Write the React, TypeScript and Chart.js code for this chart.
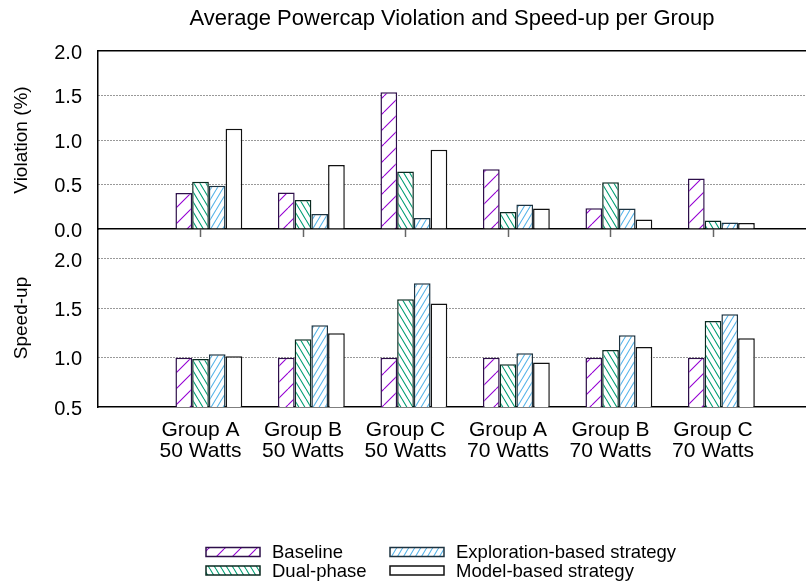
import React, { useEffect, useRef } from 'react';
import { Chart, registerables } from 'chart.js';
Chart.register(...registerables);

const titleText = 'Average Powercap Violation and Speed-up per Group';
const groupLabels = [
  ['Group A', '50 Watts'],
  ['Group B', '50 Watts'],
  ['Group C', '50 Watts'],
  ['Group A', '70 Watts'],
  ['Group B', '70 Watts'],
  ['Group C', '70 Watts'],
];
const seriesNames = ['Baseline', 'Dual-phase', 'Exploration-based strategy', 'Model-based strategy'];

const violationBaseline = [0.405, 0.41, 1.536, 0.672, 0.233, 0.567];
const violationDual = [0.53, 0.327, 0.646, 0.19, 0.526, 0.095];
const violationExploration = [0.485, 0.169, 0.124, 0.275, 0.23, 0.072];
const violationModel = [1.126, 0.72, 0.89, 0.23, 0.106, 0.068];

const speedupBaseline = [1.0, 1.0, 1.0, 1.0, 1.0, 1.0];
const speedupDual = [0.987, 1.187, 1.591, 0.933, 1.078, 1.372];
const speedupExploration = [1.034, 1.329, 1.753, 1.045, 1.227, 1.44];
const speedupModel = [1.014, 1.248, 1.55, 0.95, 1.109, 1.197];

const violationTicks = [0, 0.5, 1.0, 1.5, 2.0];
const speedupTicks = [0.5, 1.0, 1.5, 2.0];

const FONT = '"Liberation Sans", Arial, Helvetica, sans-serif';
const X_MAX = 6.907;
const SPEEDUP_MAX = 2.304;

function makePattern(ctx: CanvasRenderingContext2D, color: string | null, w: number, h: number, dir: string) {
  const c = document.createElement('canvas');
  c.width = w;
  c.height = h;
  const g = c.getContext('2d')!;
  g.fillStyle = '#ffffff';
  g.fillRect(0, 0, w, h);
  if (color) {
    g.strokeStyle = color;
    g.lineWidth = 1.1;
    g.beginPath();
    for (const dx of [-w, 0, w]) {
      if (dir === '/') {
        g.moveTo(dx, h);
        g.lineTo(dx + w, 0);
      } else {
        g.moveTo(dx, 0);
        g.lineTo(dx + w, h);
      }
    }
    g.stroke();
  }
  return ctx.createPattern(c, 'repeat')!;
}

function makeFills(ctx: CanvasRenderingContext2D) {
  return [
    makePattern(ctx, '#9400d3', 16, 16, '/'),
    makePattern(ctx, '#009e73', 6, 10, '\\'),
    makePattern(ctx, '#56b4e9', 6, 10, '/'),
    makePattern(ctx, null, 4, 4, '/'),
  ];
}
const borderColors = ['#2d0f4a', '#0a2a20', '#1d3340', '#111111'];

function buildDatasets(fills: CanvasPattern[], series: number[][]) {
  const dummy = { label: '', data: [] as any[], backgroundColor: 'rgba(0,0,0,0)' };
  return [
    dummy,
    ...series.map((vals, k) => ({
      label: seriesNames[k],
      data: vals.map((v, i) => ({ x: i + 1, y: v })),
      backgroundColor: fills[k],
      borderColor: borderColors[k],
      borderWidth: 1.5,
      categoryPercentage: 0.815,
      barPercentage: 1.0,
    })),
  ];
}

const noPad = (s: any) => {
  s.paddingTop = 0;
  s.paddingBottom = 0;
  s.paddingLeft = 0;
  s.paddingRight = 0;
};

const yAxisBase = (ticks: number[], title: string) => ({
  afterFit: (s: any) => {
    s.width = 98;
    noPad(s);
  },
  afterBuildTicks: (s: any) => {
    s.ticks = ticks.map((v) => ({ value: v }));
  },
  ticks: {
    color: '#000',
    padding: 16,
    labelOffset: 2,
    font: { family: FONT, size: 20 },
    callback: (v: any) => Number(v).toFixed(1),
  },
  title: {
    display: true,
    text: title,
    color: '#000',
    font: { family: FONT, size: 19 },
    padding: { top: 10, bottom: 0 },
  },
  border: { display: true, color: '#000', width: 1.5, dash: [1, 2] },
});

export default function App() {
  const topRef = useRef<HTMLCanvasElement>(null);
  const botRef = useRef<HTMLCanvasElement>(null);

  useEffect(() => {
    document.body.style.margin = '0';
    const topCtx = topRef.current!.getContext('2d')!;
    const botCtx = botRef.current!.getContext('2d')!;
    const topFills = makeFills(topCtx);
    const botFills = makeFills(botCtx);

    const gridColor = (skip: number[]) => (c: any) =>
      c.tick && skip.includes(c.tick.value) ? 'rgba(0,0,0,0)' : '#333';

    const topChart = new Chart(topCtx, {
      type: 'bar',
      data: {
        datasets: buildDatasets(topFills, [violationBaseline, violationDual, violationExploration, violationModel]) as any,
      },
      options: {
        animation: false,
        responsive: false,
        layout: { padding: { left: 0, right: 0, top: 0, bottom: 3 }, autoPadding: false } as any,
        plugins: {
          legend: { display: false },
          tooltip: { enabled: false },
          title: {
            display: true,
            text: titleText,
            color: '#000',
            fullSize: false,
            font: { family: FONT, size: 22, weight: 'normal' as any, lineHeight: 1.2 },
            padding: { top: 6, bottom: 18.6 },
          },
        },
        scales: {
          x: {
            type: 'linear',
            min: 0,
            max: X_MAX,
            offset: false,
            afterFit: noPad,
            afterBuildTicks: (s: any) => {
              s.ticks = groupLabels.map((_, i) => ({ value: i + 1 }));
            },
            ticks: { display: false },
            grid: {
              display: true,
              offset: false,
              drawOnChartArea: false,
              drawTicks: true,
              tickLength: 8,
              tickColor: '#666',
              tickWidth: 1.5,
            },
            border: { display: true, color: '#000', width: 1.5 },
          },
          x2: {
            type: 'linear',
            position: 'top',
            display: true,
            afterFit: noPad,
            ticks: { display: false },
            grid: { display: false, drawTicks: false, drawOnChartArea: false },
            border: { display: true, color: '#000', width: 1.5 },
          },
          y: {
            min: 0,
            max: 2,
            ...yAxisBase(violationTicks, 'Violation (%)'),
            grid: {
              color: gridColor([0, 2]),
              lineWidth: 1,
              drawTicks: false,
              borderDash: [1, 2],
            },
          } as any,
        },
      } as any,
    });

    const legendPlugin = {
      id: 'customLegend',
      afterDraw(chart: any) {
        const ctx = chart.ctx as CanvasRenderingContext2D;
        ctx.save();
        seriesNames.forEach((name, k) => {
          const col = Math.floor(k / 2);
          const row = k % 2;
          const x = 206 + col * 184;
          const y = 318.5 + row * 18.5;
          ctx.fillStyle = botFills[k];
          ctx.fillRect(x, y, 54, 9);
          ctx.strokeStyle = borderColors[k];
          ctx.lineWidth = 1.5;
          ctx.strokeRect(x, y, 54, 9);
          ctx.fillStyle = '#000';
          ctx.font = `18.5px ${FONT}`;
          ctx.textBaseline = 'middle';
          ctx.textAlign = 'left';
          ctx.fillText(name, x + 66, y + 5.5);
        });
        ctx.restore();
      },
    };

    const botChart = new Chart(botCtx, {
      type: 'bar',
      data: {
        datasets: buildDatasets(botFills, [speedupBaseline, speedupDual, speedupExploration, speedupModel]) as any,
      },
      options: {
        animation: false,
        responsive: false,
        layout: { padding: { left: 0, right: 0, top: 0, bottom: 109 }, autoPadding: false } as any,
        plugins: {
          legend: { display: false },
          tooltip: { enabled: false },
          title: { display: false },
        },
        scales: {
          x: {
            type: 'linear',
            min: 0,
            max: X_MAX,
            offset: false,
            afterFit: noPad,
            afterBuildTicks: (s: any) => {
              s.ticks = groupLabels.map((_, i) => ({ value: i + 1 }));
            },
            ticks: {
              display: true,
              color: '#000',
              padding: 13,
              maxRotation: 0,
              autoSkip: false,
              font: { family: FONT, size: 21, lineHeight: 1.0 },
              callback: (v: any) => groupLabels[Math.round(Number(v)) - 1] || '',
            },
            grid: { display: true, offset: false, drawOnChartArea: false, drawTicks: false },
            border: { display: true, color: '#000', width: 1.5 },
          },
          y: {
            min: 0.5,
            max: SPEEDUP_MAX,
            ...yAxisBase(speedupTicks, 'Speed-up'),
            grid: {
              color: gridColor([0.5]),
              lineWidth: 1,
              drawTicks: false,
              borderDash: [1, 2],
            },
          } as any,
        },
      } as any,
      plugins: [legendPlugin],
    });

    return () => {
      topChart.destroy();
      botChart.destroy();
    };
  }, []);

  return (
    <div style={{ position: 'relative', width: 806, height: 584, background: '#fff', overflow: 'hidden' }}>
      <canvas
        ref={botRef}
        width={806}
        height={355}
        style={{ position: 'absolute', left: 0, top: 229, zIndex: 1 }}
      />
      <canvas
        ref={topRef}
        width={806}
        height={240}
        style={{ position: 'absolute', left: 0, top: 0, zIndex: 2 }}
      />
    </div>
  );
}
